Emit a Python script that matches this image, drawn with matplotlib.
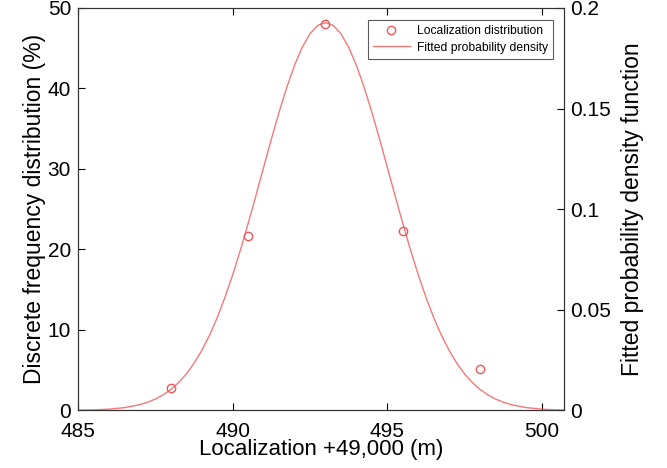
import matplotlib
matplotlib.use("Agg")
import matplotlib.pyplot as plt

plt.rcParams["font.family"] = ["Liberation Sans", "DejaVu Sans"]

# Discrete frequency of localizations (%)
loc_x = [488.0, 490.5, 493.0, 495.5, 498.0]
loc_freq = [2.8, 21.7, 48.0, 22.3, 5.1]

# Fitted probability density
pdf_x = [485.0, 485.5, 486.0, 486.5, 487.0, 487.25, 487.5, 487.75, 488.0,
         488.25, 488.5, 488.75, 489.0, 489.25, 489.5, 489.75,
         490.0, 490.25, 490.5, 490.75, 491.0, 491.25, 491.5, 491.75, 492.0,
         492.25, 492.5, 492.75, 493.0, 493.25, 493.5, 493.75, 494.0, 494.25,
         494.5, 494.75, 495.0, 495.25, 495.5, 495.75, 496.0, 496.25, 496.5,
         496.75, 497.0, 497.25, 497.5, 497.75, 498.0, 498.25, 498.5, 498.75,
         499.0, 499.5, 500.0, 500.5, 501.0]
pdf_y = [0.00011, 0.00027, 0.00063, 0.00139, 0.00289, 0.00407, 0.00565, 0.00773,
         0.0104, 0.01386, 0.0181, 0.0234, 0.0298, 0.0373, 0.0461, 0.0562,
         0.0674, 0.0797, 0.0929, 0.1067, 0.1208, 0.1348, 0.1482, 0.1606, 0.1715,
         0.1805, 0.1872, 0.1913, 0.1927, 0.1913, 0.1872, 0.1805, 0.1715, 0.1606,
         0.1482, 0.1348, 0.1208, 0.1067, 0.0929, 0.0797, 0.0674, 0.0562, 0.0461,
         0.0373, 0.0298, 0.0234, 0.0181, 0.01386, 0.0104, 0.00773, 0.00565,
         0.00407, 0.00289, 0.00139, 0.00063, 0.00027, 0.00011]

red = "#f0575a"

fig, ax = plt.subplots(figsize=(6.67, 4.68), dpi=100)
fig.subplots_adjust(left=0.117, right=0.845, top=0.983, bottom=0.123)
ax2 = ax.twinx()

pts, = ax.plot(loc_x, loc_freq, "o", mfc="none", mec=red, ms=6, mew=1.0,
               label="Localization distribution", zorder=3)
curve, = ax2.plot(pdf_x, pdf_y, "-", color=red, lw=1.0, alpha=0.8,
                  label="Fitted probability density")

ax.set_xlim(485, 500.7)
ax.set_ylim(0, 50)
ax2.set_ylim(0, 0.2)
ax.set_xticks([485, 490, 495, 500])
ax.set_yticks([0, 10, 20, 30, 40, 50])
ax2.set_yticks([0, 0.05, 0.1, 0.15, 0.2])
ax2.set_yticklabels(["0", "0.05", "0.1", "0.15", "0.2"])

ax.tick_params(axis="x", direction="in", labelsize=15, length=5, top=True,
               width=0.8, pad=8)
ax.tick_params(axis="y", direction="in", labelsize=15, length=5, width=0.8,
               pad=5)
ax2.tick_params(direction="in", labelsize=15, length=5, width=0.8, pad=5)
for a in (ax, ax2):
    for s in a.spines.values():
        s.set_linewidth(0.8)
        s.set_color("#333333")

ax.set_xlabel("Localization +49,000 (m)", fontsize=16, labelpad=-1)
ax.set_ylabel("Discrete frequency distribution (%)", fontsize=16.5, labelpad=1)
ax2.set_ylabel("Fitted probability density function", fontsize=16.5, labelpad=7)

leg = ax.legend([pts, curve], ["Localization distribution", "Fitted probability density"],
                loc="upper right", fontsize=8.7, frameon=True, fancybox=False,
                handlelength=3.0, borderpad=0.4, labelspacing=0.4,
                handletextpad=0.6, bbox_to_anchor=(0.99, 0.985))
leg.get_frame().set_edgecolor("#333333")
leg.get_frame().set_linewidth(0.8)

fig.savefig("out.png", dpi=100)
